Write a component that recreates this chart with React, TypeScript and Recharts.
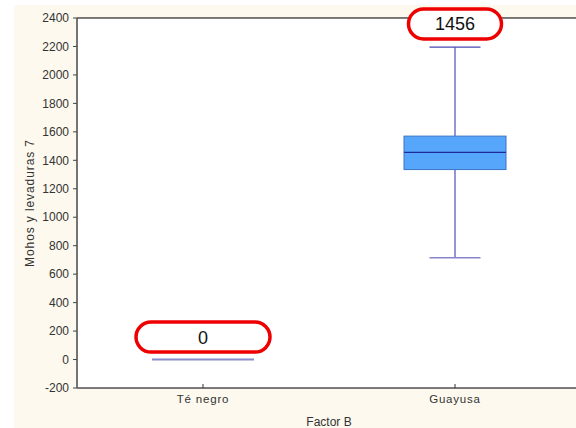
import React from 'react';
import { ComposedChart, Bar, XAxis, YAxis, CartesianGrid, ReferenceLine, ReferenceDot } from 'recharts';

const categories = ['Té negro', 'Guayusa'];
const whiskerLow = [0, 715];
const q1 = [0, 1335];
const median = [0, 1456];
const q3 = [0, 1570];
const whiskerHigh = [0, 2195];
const noteText = ['0', '1456'];
const noteValue = [158, 2358];
const yTicks = [-200, 0, 200, 400, 600, 800, 1000, 1200, 1400, 1600, 1800, 2000, 2200, 2400];

const yMin = yTicks[0];
const yMax = yTicks[yTicks.length - 1];

const data = categories.map((name, i) => ({
  name,
  range: [whiskerLow[i], whiskerHigh[i]],
  low: whiskerLow[i],
  q1: q1[i],
  median: median[i],
  q3: q3[i],
  high: whiskerHigh[i],
}));

const FONT = '"Liberation Sans", Arial, sans-serif';

const BoxShape = (props: any) => {
  const { x, width, background, payload } = props;
  const toPx = (v: number) => background.y + (background.height * (yMax - v)) / (yMax - yMin);
  const cx = x + width / 2;
  const capW = width / 2;
  const pLow = toPx(payload.low);
  const pHigh = toPx(payload.high);
  const pQ1 = toPx(payload.q1);
  const pQ3 = toPx(payload.q3);
  const pMed = toPx(payload.median);
  // all-zero group collapses to a single flat line
  if (payload.q3 === payload.q1) {
    return (
      <g>
        <line x1={x} x2={x + width} y1={pMed} y2={pMed} stroke="#8a8ad0" strokeWidth={2} />
      </g>
    );
  }
  return (
    <g>
      <line x1={cx} x2={cx} y1={pHigh} y2={pQ3} stroke="#2a2ab0" strokeWidth={1} />
      <line x1={cx} x2={cx} y1={pQ1} y2={pLow} stroke="#2a2ab0" strokeWidth={1} />
      <line x1={cx - capW / 2} x2={cx + capW / 2} y1={pHigh} y2={pHigh} stroke="#4a48b4" strokeWidth={1.2} />
      <line x1={cx - capW / 2} x2={cx + capW / 2} y1={pLow} y2={pLow} stroke="#8a84d0" strokeWidth={1.5} />
      <rect x={x} y={pQ3} width={width} height={pQ1 - pQ3} fill="#56a6fb" stroke="#3c74c4" strokeWidth={1} />
      <line x1={x} x2={x + width} y1={pMed} y2={pMed} stroke="#1c2a9c" strokeWidth={1.2} />
    </g>
  );
};

const makeNote = (text: string, w: number) => (props: any) => {
  const { cx, cy } = props;
  const h = 30;
  return (
    <g>
      <rect x={cx - w / 2} y={cy - h / 2} width={w} height={h} rx={15} ry={15} fill="#ffffff" stroke="#ee0000" strokeWidth={3.5} />
      <text x={cx} y={cy + 6.5} textAnchor="middle" fontSize={18} fontFamily={FONT} fill="#111">
        {text}
      </text>
    </g>
  );
};

const noteWidths = [134, 93];

export default function App() {
  return (
    <div style={{ position: 'absolute', left: 0, top: 0, width: 576, height: 428, background: '#ffffff' }}>
      <div style={{ position: 'absolute', left: 14, top: 5, width: 562, height: 423, background: '#fdf9ee' }} />
      <div style={{ position: 'absolute', left: 0, top: 0 }}>
        <ComposedChart
          width={576}
          height={428}
          data={data}
          margin={{ top: 18, right: -5, left: 0, bottom: 0 }}
          barCategoryGap={0}
        >
          <rect x={77} y={18} width={504} height={370} fill="#ffffff" />
          <CartesianGrid vertical={false} horizontal stroke="#dcdcdc" strokeWidth={1.2} fill="#ffffff" />
          <XAxis
            dataKey="name"
            height={40}
            axisLine={{ stroke: '#000', strokeWidth: 1.2 }}
            tickSize={-4}
            tickMargin={11}
            tickLine={{ stroke: '#333' }}
            tick={{ fontSize: 11.5, fontFamily: FONT, fill: '#333', letterSpacing: 0.8 }}
            label={{
              content: ({ viewBox }: any) => (
                <text x={viewBox.x + viewBox.width / 2} y={426} textAnchor="middle" fontSize={12} fontFamily={FONT} fill="#333">
                  Factor B
                </text>
              ),
            }}
          />
          <YAxis
            width={77}
            domain={[yMin, yMax]}
            ticks={yTicks}
            interval={0}
            allowDataOverflow
            axisLine={{ stroke: '#666', strokeWidth: 1.8 }}
            tickLine={{ stroke: '#444' }}
            tickSize={4}
            tickMargin={4}
            tick={{ fontSize: 12, fontFamily: FONT, fill: '#333' }}
            label={{
              content: ({ viewBox }: any) => (
                <text
                  x={30}
                  y={viewBox.y + viewBox.height / 2}
                  transform={`rotate(-90 30 ${viewBox.y + viewBox.height / 2})`}
                  textAnchor="middle"
                  dominantBaseline="central"
                  fontSize={12}
                  letterSpacing={0.9}
                  fontFamily={FONT}
                  fill="#333"
                >
                  Mohos y levaduras 7
                </text>
              ),
            }}
          />
          <ReferenceLine y={yMax} stroke="#000" strokeWidth={1.2} />
          <Bar dataKey="range" barSize={102} shape={BoxShape} isAnimationActive={false} />
          {categories.map((c, i) => (
            <ReferenceDot key={c} x={c} y={noteValue[i]} shape={makeNote(noteText[i], noteWidths[i])} ifOverflow="visible" />
          ))}
        </ComposedChart>
      </div>
    </div>
  );
}
